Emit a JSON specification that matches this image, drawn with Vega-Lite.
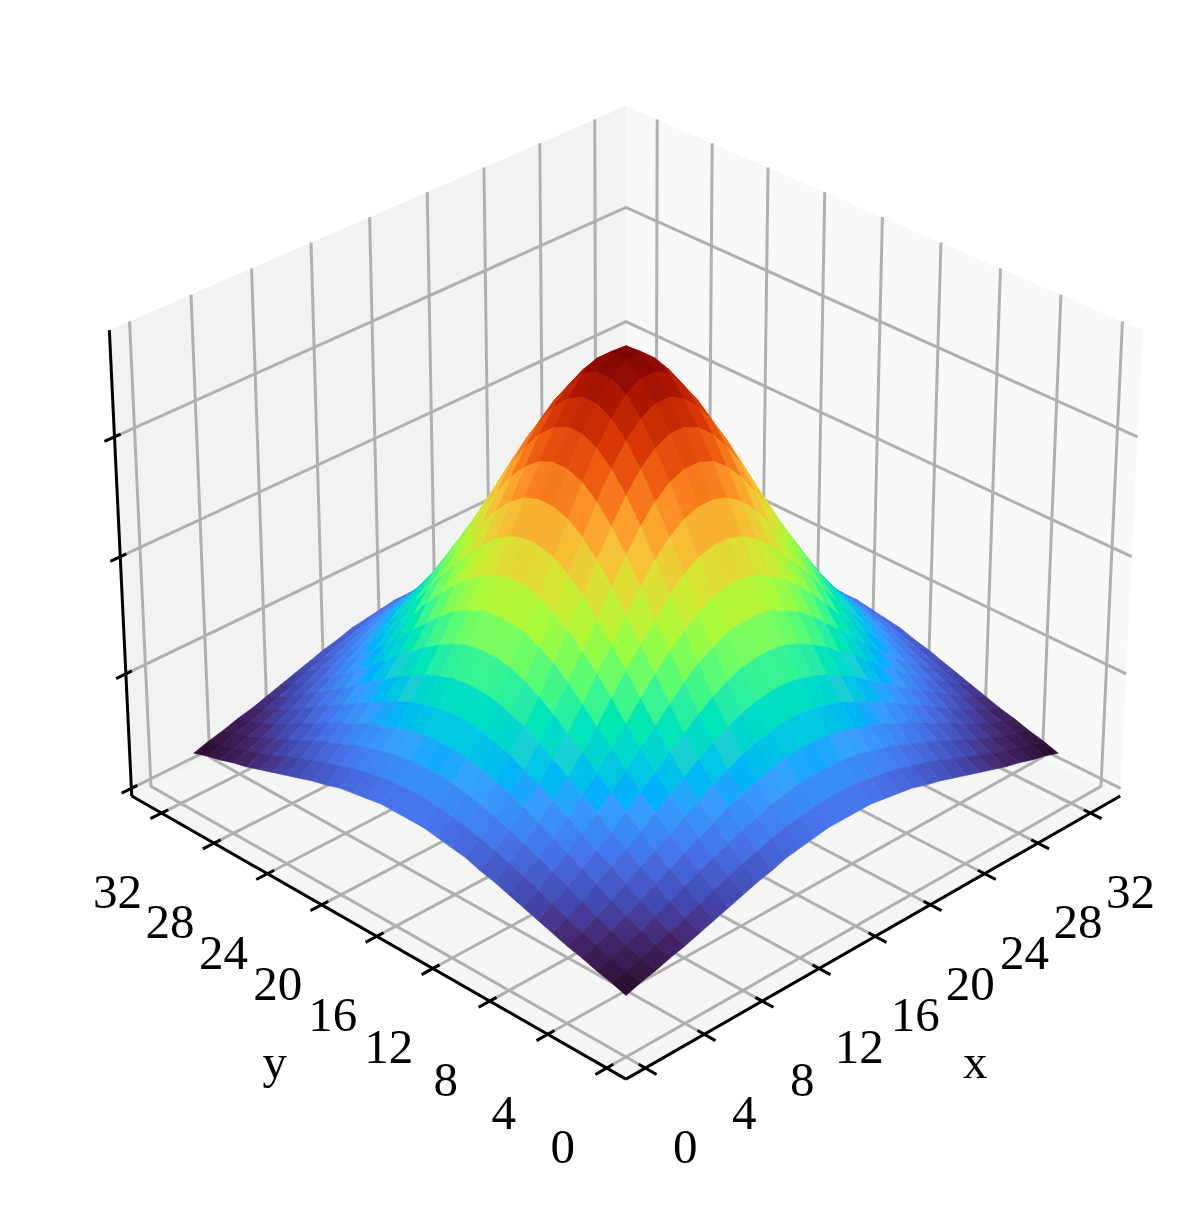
{"$schema":"https://vega.github.io/schema/vega-lite/v6.json","width":1195,"height":1206,"autosize":"none","padding":0,"background":"white","view":{"stroke":null},
"datasets":{"surface":[
{"x":32,"y":32,"z":0.31},{"x":32,"y":31,"z":0.35},{"x":32,"y":30,"z":0.38},{"x":32,"y":29,"z":0.42},{"x":32,"y":28,"z":0.45},{"x":32,"y":27,"z":0.49},{"x":32,"y":26,"z":0.53},{"x":32,"y":25,"z":0.57},{"x":32,"y":24,"z":0.61},{"x":32,"y":23,"z":0.65},{"x":32,"y":22,"z":0.68},{"x":32,"y":21,"z":0.72},{"x":32,"y":20,"z":0.74},{"x":32,"y":19,"z":0.76},{"x":32,"y":18,"z":0.78},{"x":32,"y":17,"z":0.78},{"x":32,"y":16,"z":0.78},{"x":32,"y":15,"z":0.78},{"x":32,"y":14,"z":0.76},{"x":32,"y":13,"z":0.74},{"x":32,"y":12,"z":0.72},{"x":32,"y":11,"z":0.68},{"x":32,"y":10,"z":0.65},{"x":32,"y":9,"z":0.61},{"x":32,"y":8,"z":0.57},{"x":32,"y":7,"z":0.53},{"x":32,"y":6,"z":0.49},{"x":32,"y":5,"z":0.45},{"x":32,"y":4,"z":0.42},{"x":32,"y":3,"z":0.38},{"x":32,"y":2,"z":0.35},{"x":32,"y":1,"z":0.31},
{"x":31,"y":32,"z":0.35},{"x":31,"y":31,"z":0.38},{"x":31,"y":30,"z":0.42},{"x":31,"y":29,"z":0.46},{"x":31,"y":28,"z":0.5},{"x":31,"y":27,"z":0.55},{"x":31,"y":26,"z":0.6},{"x":31,"y":25,"z":0.65},{"x":31,"y":24,"z":0.7},{"x":31,"y":23,"z":0.74},{"x":31,"y":22,"z":0.78},{"x":31,"y":21,"z":0.82},{"x":31,"y":20,"z":0.85},{"x":31,"y":19,"z":0.87},{"x":31,"y":18,"z":0.89},{"x":31,"y":17,"z":0.9},{"x":31,"y":16,"z":0.9},{"x":31,"y":15,"z":0.89},{"x":31,"y":14,"z":0.87},{"x":31,"y":13,"z":0.85},{"x":31,"y":12,"z":0.82},{"x":31,"y":11,"z":0.78},{"x":31,"y":10,"z":0.74},{"x":31,"y":9,"z":0.7},{"x":31,"y":8,"z":0.65},{"x":31,"y":7,"z":0.6},{"x":31,"y":6,"z":0.55},{"x":31,"y":5,"z":0.5},{"x":31,"y":4,"z":0.46},{"x":31,"y":3,"z":0.42},{"x":31,"y":2,"z":0.38},{"x":31,"y":1,"z":0.35},
{"x":30,"y":32,"z":0.38},{"x":30,"y":31,"z":0.42},{"x":30,"y":30,"z":0.46},{"x":30,"y":29,"z":0.51},{"x":30,"y":28,"z":0.56},{"x":30,"y":27,"z":0.62},{"x":30,"y":26,"z":0.68},{"x":30,"y":25,"z":0.74},{"x":30,"y":24,"z":0.79},{"x":30,"y":23,"z":0.84},{"x":30,"y":22,"z":0.89},{"x":30,"y":21,"z":0.93},{"x":30,"y":20,"z":0.97},{"x":30,"y":19,"z":1.0},{"x":30,"y":18,"z":1.02},{"x":30,"y":17,"z":1.03},{"x":30,"y":16,"z":1.03},{"x":30,"y":15,"z":1.02},{"x":30,"y":14,"z":1.0},{"x":30,"y":13,"z":0.97},{"x":30,"y":12,"z":0.93},{"x":30,"y":11,"z":0.89},{"x":30,"y":10,"z":0.84},{"x":30,"y":9,"z":0.79},{"x":30,"y":8,"z":0.74},{"x":30,"y":7,"z":0.68},{"x":30,"y":6,"z":0.62},{"x":30,"y":5,"z":0.56},{"x":30,"y":4,"z":0.51},{"x":30,"y":3,"z":0.46},{"x":30,"y":2,"z":0.42},{"x":30,"y":1,"z":0.38},
{"x":29,"y":32,"z":0.42},{"x":29,"y":31,"z":0.46},{"x":29,"y":30,"z":0.51},{"x":29,"y":29,"z":0.57},{"x":29,"y":28,"z":0.63},{"x":29,"y":27,"z":0.7},{"x":29,"y":26,"z":0.76},{"x":29,"y":25,"z":0.83},{"x":29,"y":24,"z":0.89},{"x":29,"y":23,"z":0.95},{"x":29,"y":22,"z":1.01},{"x":29,"y":21,"z":1.06},{"x":29,"y":20,"z":1.1},{"x":29,"y":19,"z":1.14},{"x":29,"y":18,"z":1.17},{"x":29,"y":17,"z":1.18},{"x":29,"y":16,"z":1.18},{"x":29,"y":15,"z":1.17},{"x":29,"y":14,"z":1.14},{"x":29,"y":13,"z":1.1},{"x":29,"y":12,"z":1.06},{"x":29,"y":11,"z":1.01},{"x":29,"y":10,"z":0.95},{"x":29,"y":9,"z":0.89},{"x":29,"y":8,"z":0.83},{"x":29,"y":7,"z":0.76},{"x":29,"y":6,"z":0.7},{"x":29,"y":5,"z":0.63},{"x":29,"y":4,"z":0.57},{"x":29,"y":3,"z":0.51},{"x":29,"y":2,"z":0.46},{"x":29,"y":1,"z":0.42},
{"x":28,"y":32,"z":0.45},{"x":28,"y":31,"z":0.5},{"x":28,"y":30,"z":0.56},{"x":28,"y":29,"z":0.63},{"x":28,"y":28,"z":0.7},{"x":28,"y":27,"z":0.78},{"x":28,"y":26,"z":0.85},{"x":28,"y":25,"z":0.92},{"x":28,"y":24,"z":1.0},{"x":28,"y":23,"z":1.07},{"x":28,"y":22,"z":1.14},{"x":28,"y":21,"z":1.2},{"x":28,"y":20,"z":1.26},{"x":28,"y":19,"z":1.3},{"x":28,"y":18,"z":1.33},{"x":28,"y":17,"z":1.35},{"x":28,"y":16,"z":1.35},{"x":28,"y":15,"z":1.33},{"x":28,"y":14,"z":1.3},{"x":28,"y":13,"z":1.26},{"x":28,"y":12,"z":1.2},{"x":28,"y":11,"z":1.14},{"x":28,"y":10,"z":1.07},{"x":28,"y":9,"z":1.0},{"x":28,"y":8,"z":0.92},{"x":28,"y":7,"z":0.85},{"x":28,"y":6,"z":0.78},{"x":28,"y":5,"z":0.7},{"x":28,"y":4,"z":0.63},{"x":28,"y":3,"z":0.56},{"x":28,"y":2,"z":0.5},{"x":28,"y":1,"z":0.45},
{"x":27,"y":32,"z":0.49},{"x":27,"y":31,"z":0.55},{"x":27,"y":30,"z":0.62},{"x":27,"y":29,"z":0.7},{"x":27,"y":28,"z":0.78},{"x":27,"y":27,"z":0.86},{"x":27,"y":26,"z":0.94},{"x":27,"y":25,"z":1.03},{"x":27,"y":24,"z":1.12},{"x":27,"y":23,"z":1.2},{"x":27,"y":22,"z":1.29},{"x":27,"y":21,"z":1.36},{"x":27,"y":20,"z":1.43},{"x":27,"y":19,"z":1.48},{"x":27,"y":18,"z":1.52},{"x":27,"y":17,"z":1.54},{"x":27,"y":16,"z":1.54},{"x":27,"y":15,"z":1.52},{"x":27,"y":14,"z":1.48},{"x":27,"y":13,"z":1.43},{"x":27,"y":12,"z":1.36},{"x":27,"y":11,"z":1.29},{"x":27,"y":10,"z":1.2},{"x":27,"y":9,"z":1.12},{"x":27,"y":8,"z":1.03},{"x":27,"y":7,"z":0.94},{"x":27,"y":6,"z":0.86},{"x":27,"y":5,"z":0.78},{"x":27,"y":4,"z":0.7},{"x":27,"y":3,"z":0.62},{"x":27,"y":2,"z":0.55},{"x":27,"y":1,"z":0.49},
{"x":26,"y":32,"z":0.53},{"x":26,"y":31,"z":0.6},{"x":26,"y":30,"z":0.68},{"x":26,"y":29,"z":0.76},{"x":26,"y":28,"z":0.85},{"x":26,"y":27,"z":0.94},{"x":26,"y":26,"z":1.04},{"x":26,"y":25,"z":1.14},{"x":26,"y":24,"z":1.24},{"x":26,"y":23,"z":1.35},{"x":26,"y":22,"z":1.44},{"x":26,"y":21,"z":1.54},{"x":26,"y":20,"z":1.62},{"x":26,"y":19,"z":1.69},{"x":26,"y":18,"z":1.74},{"x":26,"y":17,"z":1.76},{"x":26,"y":16,"z":1.76},{"x":26,"y":15,"z":1.74},{"x":26,"y":14,"z":1.69},{"x":26,"y":13,"z":1.62},{"x":26,"y":12,"z":1.54},{"x":26,"y":11,"z":1.44},{"x":26,"y":10,"z":1.35},{"x":26,"y":9,"z":1.24},{"x":26,"y":8,"z":1.14},{"x":26,"y":7,"z":1.04},{"x":26,"y":6,"z":0.94},{"x":26,"y":5,"z":0.85},{"x":26,"y":4,"z":0.76},{"x":26,"y":3,"z":0.68},{"x":26,"y":2,"z":0.6},{"x":26,"y":1,"z":0.53},
{"x":25,"y":32,"z":0.57},{"x":25,"y":31,"z":0.65},{"x":25,"y":30,"z":0.74},{"x":25,"y":29,"z":0.83},{"x":25,"y":28,"z":0.92},{"x":25,"y":27,"z":1.03},{"x":25,"y":26,"z":1.14},{"x":25,"y":25,"z":1.26},{"x":25,"y":24,"z":1.38},{"x":25,"y":23,"z":1.5},{"x":25,"y":22,"z":1.62},{"x":25,"y":21,"z":1.74},{"x":25,"y":20,"z":1.84},{"x":25,"y":19,"z":1.91},{"x":25,"y":18,"z":1.97},{"x":25,"y":17,"z":1.99},{"x":25,"y":16,"z":1.99},{"x":25,"y":15,"z":1.97},{"x":25,"y":14,"z":1.91},{"x":25,"y":13,"z":1.84},{"x":25,"y":12,"z":1.74},{"x":25,"y":11,"z":1.62},{"x":25,"y":10,"z":1.5},{"x":25,"y":9,"z":1.38},{"x":25,"y":8,"z":1.26},{"x":25,"y":7,"z":1.14},{"x":25,"y":6,"z":1.03},{"x":25,"y":5,"z":0.92},{"x":25,"y":4,"z":0.83},{"x":25,"y":3,"z":0.74},{"x":25,"y":2,"z":0.65},{"x":25,"y":1,"z":0.57},
{"x":24,"y":32,"z":0.61},{"x":24,"y":31,"z":0.7},{"x":24,"y":30,"z":0.79},{"x":24,"y":29,"z":0.89},{"x":24,"y":28,"z":1.0},{"x":24,"y":27,"z":1.12},{"x":24,"y":26,"z":1.24},{"x":24,"y":25,"z":1.38},{"x":24,"y":24,"z":1.52},{"x":24,"y":23,"z":1.67},{"x":24,"y":22,"z":1.81},{"x":24,"y":21,"z":1.94},{"x":24,"y":20,"z":2.05},{"x":24,"y":19,"z":2.13},{"x":24,"y":18,"z":2.2},{"x":24,"y":17,"z":2.24},{"x":24,"y":16,"z":2.24},{"x":24,"y":15,"z":2.2},{"x":24,"y":14,"z":2.13},{"x":24,"y":13,"z":2.05},{"x":24,"y":12,"z":1.94},{"x":24,"y":11,"z":1.81},{"x":24,"y":10,"z":1.67},{"x":24,"y":9,"z":1.52},{"x":24,"y":8,"z":1.38},{"x":24,"y":7,"z":1.24},{"x":24,"y":6,"z":1.12},{"x":24,"y":5,"z":1.0},{"x":24,"y":4,"z":0.89},{"x":24,"y":3,"z":0.79},{"x":24,"y":2,"z":0.7},{"x":24,"y":1,"z":0.61},
{"x":23,"y":32,"z":0.65},{"x":23,"y":31,"z":0.74},{"x":23,"y":30,"z":0.84},{"x":23,"y":29,"z":0.95},{"x":23,"y":28,"z":1.07},{"x":23,"y":27,"z":1.2},{"x":23,"y":26,"z":1.35},{"x":23,"y":25,"z":1.5},{"x":23,"y":24,"z":1.67},{"x":23,"y":23,"z":1.84},{"x":23,"y":22,"z":1.99},{"x":23,"y":21,"z":2.13},{"x":23,"y":20,"z":2.28},{"x":23,"y":19,"z":2.39},{"x":23,"y":18,"z":2.47},{"x":23,"y":17,"z":2.51},{"x":23,"y":16,"z":2.51},{"x":23,"y":15,"z":2.47},{"x":23,"y":14,"z":2.39},{"x":23,"y":13,"z":2.28},{"x":23,"y":12,"z":2.13},{"x":23,"y":11,"z":1.99},{"x":23,"y":10,"z":1.84},{"x":23,"y":9,"z":1.67},{"x":23,"y":8,"z":1.5},{"x":23,"y":7,"z":1.35},{"x":23,"y":6,"z":1.2},{"x":23,"y":5,"z":1.07},{"x":23,"y":4,"z":0.95},{"x":23,"y":3,"z":0.84},{"x":23,"y":2,"z":0.74},{"x":23,"y":1,"z":0.65},
{"x":22,"y":32,"z":0.68},{"x":22,"y":31,"z":0.78},{"x":22,"y":30,"z":0.89},{"x":22,"y":29,"z":1.01},{"x":22,"y":28,"z":1.14},{"x":22,"y":27,"z":1.29},{"x":22,"y":26,"z":1.44},{"x":22,"y":25,"z":1.62},{"x":22,"y":24,"z":1.81},{"x":22,"y":23,"z":1.99},{"x":22,"y":22,"z":2.17},{"x":22,"y":21,"z":2.35},{"x":22,"y":20,"z":2.51},{"x":22,"y":19,"z":2.64},{"x":22,"y":18,"z":2.73},{"x":22,"y":17,"z":2.77},{"x":22,"y":16,"z":2.77},{"x":22,"y":15,"z":2.73},{"x":22,"y":14,"z":2.64},{"x":22,"y":13,"z":2.51},{"x":22,"y":12,"z":2.35},{"x":22,"y":11,"z":2.17},{"x":22,"y":10,"z":1.99},{"x":22,"y":9,"z":1.81},{"x":22,"y":8,"z":1.62},{"x":22,"y":7,"z":1.44},{"x":22,"y":6,"z":1.29},{"x":22,"y":5,"z":1.14},{"x":22,"y":4,"z":1.01},{"x":22,"y":3,"z":0.89},{"x":22,"y":2,"z":0.78},{"x":22,"y":1,"z":0.68},
{"x":21,"y":32,"z":0.72},{"x":21,"y":31,"z":0.82},{"x":21,"y":30,"z":0.93},{"x":21,"y":29,"z":1.06},{"x":21,"y":28,"z":1.2},{"x":21,"y":27,"z":1.36},{"x":21,"y":26,"z":1.54},{"x":21,"y":25,"z":1.74},{"x":21,"y":24,"z":1.94},{"x":21,"y":23,"z":2.13},{"x":21,"y":22,"z":2.35},{"x":21,"y":21,"z":2.55},{"x":21,"y":20,"z":2.73},{"x":21,"y":19,"z":2.87},{"x":21,"y":18,"z":2.97},{"x":21,"y":17,"z":3.02},{"x":21,"y":16,"z":3.02},{"x":21,"y":15,"z":2.97},{"x":21,"y":14,"z":2.87},{"x":21,"y":13,"z":2.73},{"x":21,"y":12,"z":2.55},{"x":21,"y":11,"z":2.35},{"x":21,"y":10,"z":2.13},{"x":21,"y":9,"z":1.94},{"x":21,"y":8,"z":1.74},{"x":21,"y":7,"z":1.54},{"x":21,"y":6,"z":1.36},{"x":21,"y":5,"z":1.2},{"x":21,"y":4,"z":1.06},{"x":21,"y":3,"z":0.93},{"x":21,"y":2,"z":0.82},{"x":21,"y":1,"z":0.72},
{"x":20,"y":32,"z":0.74},{"x":20,"y":31,"z":0.85},{"x":20,"y":30,"z":0.97},{"x":20,"y":29,"z":1.1},{"x":20,"y":28,"z":1.26},{"x":20,"y":27,"z":1.43},{"x":20,"y":26,"z":1.62},{"x":20,"y":25,"z":1.84},{"x":20,"y":24,"z":2.05},{"x":20,"y":23,"z":2.28},{"x":20,"y":22,"z":2.51},{"x":20,"y":21,"z":2.73},{"x":20,"y":20,"z":2.92},{"x":20,"y":19,"z":3.08},{"x":20,"y":18,"z":3.19},{"x":20,"y":17,"z":3.25},{"x":20,"y":16,"z":3.25},{"x":20,"y":15,"z":3.19},{"x":20,"y":14,"z":3.08},{"x":20,"y":13,"z":2.92},{"x":20,"y":12,"z":2.73},{"x":20,"y":11,"z":2.51},{"x":20,"y":10,"z":2.28},{"x":20,"y":9,"z":2.05},{"x":20,"y":8,"z":1.84},{"x":20,"y":7,"z":1.62},{"x":20,"y":6,"z":1.43},{"x":20,"y":5,"z":1.26},{"x":20,"y":4,"z":1.1},{"x":20,"y":3,"z":0.97},{"x":20,"y":2,"z":0.85},{"x":20,"y":1,"z":0.74},
{"x":19,"y":32,"z":0.76},{"x":19,"y":31,"z":0.87},{"x":19,"y":30,"z":1.0},{"x":19,"y":29,"z":1.14},{"x":19,"y":28,"z":1.3},{"x":19,"y":27,"z":1.48},{"x":19,"y":26,"z":1.69},{"x":19,"y":25,"z":1.91},{"x":19,"y":24,"z":2.13},{"x":19,"y":23,"z":2.39},{"x":19,"y":22,"z":2.64},{"x":19,"y":21,"z":2.87},{"x":19,"y":20,"z":3.08},{"x":19,"y":19,"z":3.25},{"x":19,"y":18,"z":3.37},{"x":19,"y":17,"z":3.44},{"x":19,"y":16,"z":3.44},{"x":19,"y":15,"z":3.37},{"x":19,"y":14,"z":3.25},{"x":19,"y":13,"z":3.08},{"x":19,"y":12,"z":2.87},{"x":19,"y":11,"z":2.64},{"x":19,"y":10,"z":2.39},{"x":19,"y":9,"z":2.13},{"x":19,"y":8,"z":1.91},{"x":19,"y":7,"z":1.69},{"x":19,"y":6,"z":1.48},{"x":19,"y":5,"z":1.3},{"x":19,"y":4,"z":1.14},{"x":19,"y":3,"z":1.0},{"x":19,"y":2,"z":0.87},{"x":19,"y":1,"z":0.76},
{"x":18,"y":32,"z":0.78},{"x":18,"y":31,"z":0.89},{"x":18,"y":30,"z":1.02},{"x":18,"y":29,"z":1.17},{"x":18,"y":28,"z":1.33},{"x":18,"y":27,"z":1.52},{"x":18,"y":26,"z":1.74},{"x":18,"y":25,"z":1.97},{"x":18,"y":24,"z":2.2},{"x":18,"y":23,"z":2.47},{"x":18,"y":22,"z":2.73},{"x":18,"y":21,"z":2.97},{"x":18,"y":20,"z":3.19},{"x":18,"y":19,"z":3.37},{"x":18,"y":18,"z":3.52},{"x":18,"y":17,"z":3.59},{"x":18,"y":16,"z":3.59},{"x":18,"y":15,"z":3.52},{"x":18,"y":14,"z":3.37},{"x":18,"y":13,"z":3.19},{"x":18,"y":12,"z":2.97},{"x":18,"y":11,"z":2.73},{"x":18,"y":10,"z":2.47},{"x":18,"y":9,"z":2.2},{"x":18,"y":8,"z":1.97},{"x":18,"y":7,"z":1.74},{"x":18,"y":6,"z":1.52},{"x":18,"y":5,"z":1.33},{"x":18,"y":4,"z":1.17},{"x":18,"y":3,"z":1.02},{"x":18,"y":2,"z":0.89},{"x":18,"y":1,"z":0.78},
{"x":17,"y":32,"z":0.78},{"x":17,"y":31,"z":0.9},{"x":17,"y":30,"z":1.03},{"x":17,"y":29,"z":1.18},{"x":17,"y":28,"z":1.35},{"x":17,"y":27,"z":1.54},{"x":17,"y":26,"z":1.76},{"x":17,"y":25,"z":1.99},{"x":17,"y":24,"z":2.24},{"x":17,"y":23,"z":2.51},{"x":17,"y":22,"z":2.77},{"x":17,"y":21,"z":3.02},{"x":17,"y":20,"z":3.25},{"x":17,"y":19,"z":3.44},{"x":17,"y":18,"z":3.59},{"x":17,"y":17,"z":3.69},{"x":17,"y":16,"z":3.69},{"x":17,"y":15,"z":3.59},{"x":17,"y":14,"z":3.44},{"x":17,"y":13,"z":3.25},{"x":17,"y":12,"z":3.02},{"x":17,"y":11,"z":2.77},{"x":17,"y":10,"z":2.51},{"x":17,"y":9,"z":2.24},{"x":17,"y":8,"z":1.99},{"x":17,"y":7,"z":1.76},{"x":17,"y":6,"z":1.54},{"x":17,"y":5,"z":1.35},{"x":17,"y":4,"z":1.18},{"x":17,"y":3,"z":1.03},{"x":17,"y":2,"z":0.9},{"x":17,"y":1,"z":0.78},
{"x":16,"y":32,"z":0.78},{"x":16,"y":31,"z":0.9},{"x":16,"y":30,"z":1.03},{"x":16,"y":29,"z":1.18},{"x":16,"y":28,"z":1.35},{"x":16,"y":27,"z":1.54},{"x":16,"y":26,"z":1.76},{"x":16,"y":25,"z":1.99},{"x":16,"y":24,"z":2.24},{"x":16,"y":23,"z":2.51},{"x":16,"y":22,"z":2.77},{"x":16,"y":21,"z":3.02},{"x":16,"y":20,"z":3.25},{"x":16,"y":19,"z":3.44},{"x":16,"y":18,"z":3.59},{"x":16,"y":17,"z":3.69},{"x":16,"y":16,"z":3.69},{"x":16,"y":15,"z":3.59},{"x":16,"y":14,"z":3.44},{"x":16,"y":13,"z":3.25},{"x":16,"y":12,"z":3.02},{"x":16,"y":11,"z":2.77},{"x":16,"y":10,"z":2.51},{"x":16,"y":9,"z":2.24},{"x":16,"y":8,"z":1.99},{"x":16,"y":7,"z":1.76},{"x":16,"y":6,"z":1.54},{"x":16,"y":5,"z":1.35},{"x":16,"y":4,"z":1.18},{"x":16,"y":3,"z":1.03},{"x":16,"y":2,"z":0.9},{"x":16,"y":1,"z":0.78},
{"x":15,"y":32,"z":0.78},{"x":15,"y":31,"z":0.89},{"x":15,"y":30,"z":1.02},{"x":15,"y":29,"z":1.17},{"x":15,"y":28,"z":1.33},{"x":15,"y":27,"z":1.52},{"x":15,"y":26,"z":1.74},{"x":15,"y":25,"z":1.97},{"x":15,"y":24,"z":2.2},{"x":15,"y":23,"z":2.47},{"x":15,"y":22,"z":2.73},{"x":15,"y":21,"z":2.97},{"x":15,"y":20,"z":3.19},{"x":15,"y":19,"z":3.37},{"x":15,"y":18,"z":3.52},{"x":15,"y":17,"z":3.59},{"x":15,"y":16,"z":3.59},{"x":15,"y":15,"z":3.52},{"x":15,"y":14,"z":3.37},{"x":15,"y":13,"z":3.19},{"x":15,"y":12,"z":2.97},{"x":15,"y":11,"z":2.73},{"x":15,"y":10,"z":2.47},{"x":15,"y":9,"z":2.2},{"x":15,"y":8,"z":1.97},{"x":15,"y":7,"z":1.74},{"x":15,"y":6,"z":1.52},{"x":15,"y":5,"z":1.33},{"x":15,"y":4,"z":1.17},{"x":15,"y":3,"z":1.02},{"x":15,"y":2,"z":0.89},{"x":15,"y":1,"z":0.78},
{"x":14,"y":32,"z":0.76},{"x":14,"y":31,"z":0.87},{"x":14,"y":30,"z":1.0},{"x":14,"y":29,"z":1.14},{"x":14,"y":28,"z":1.3},{"x":14,"y":27,"z":1.48},{"x":14,"y":26,"z":1.69},{"x":14,"y":25,"z":1.91},{"x":14,"y":24,"z":2.13},{"x":14,"y":23,"z":2.39},{"x":14,"y":22,"z":2.64},{"x":14,"y":21,"z":2.87},{"x":14,"y":20,"z":3.08},{"x":14,"y":19,"z":3.25},{"x":14,"y":18,"z":3.37},{"x":14,"y":17,"z":3.44},{"x":14,"y":16,"z":3.44},{"x":14,"y":15,"z":3.37},{"x":14,"y":14,"z":3.25},{"x":14,"y":13,"z":3.08},{"x":14,"y":12,"z":2.87},{"x":14,"y":11,"z":2.64},{"x":14,"y":10,"z":2.39},{"x":14,"y":9,"z":2.13},{"x":14,"y":8,"z":1.91},{"x":14,"y":7,"z":1.69},{"x":14,"y":6,"z":1.48},{"x":14,"y":5,"z":1.3},{"x":14,"y":4,"z":1.14},{"x":14,"y":3,"z":1.0},{"x":14,"y":2,"z":0.87},{"x":14,"y":1,"z":0.76},
{"x":13,"y":32,"z":0.74},{"x":13,"y":31,"z":0.85},{"x":13,"y":30,"z":0.97},{"x":13,"y":29,"z":1.1},{"x":13,"y":28,"z":1.26},{"x":13,"y":27,"z":1.43},{"x":13,"y":26,"z":1.62},{"x":13,"y":25,"z":1.84},{"x":13,"y":24,"z":2.05},{"x":13,"y":23,"z":2.28},{"x":13,"y":22,"z":2.51},{"x":13,"y":21,"z":2.73},{"x":13,"y":20,"z":2.92},{"x":13,"y":19,"z":3.08},{"x":13,"y":18,"z":3.19},{"x":13,"y":17,"z":3.25},{"x":13,"y":16,"z":3.25},{"x":13,"y":15,"z":3.19},{"x":13,"y":14,"z":3.08},{"x":13,"y":13,"z":2.92},{"x":13,"y":12,"z":2.73},{"x":13,"y":11,"z":2.51},{"x":13,"y":10,"z":2.28},{"x":13,"y":9,"z":2.05},{"x":13,"y":8,"z":1.84},{"x":13,"y":7,"z":1.62},{"x":13,"y":6,"z":1.43},{"x":13,"y":5,"z":1.26},{"x":13,"y":4,"z":1.1},{"x":13,"y":3,"z":0.97},{"x":13,"y":2,"z":0.85},{"x":13,"y":1,"z":0.74},
{"x":12,"y":32,"z":0.72},{"x":12,"y":31,"z":0.82},{"x":12,"y":30,"z":0.93},{"x":12,"y":29,"z":1.06},{"x":12,"y":28,"z":1.2},{"x":12,"y":27,"z":1.36},{"x":12,"y":26,"z":1.54},{"x":12,"y":25,"z":1.74},{"x":12,"y":24,"z":1.94},{"x":12,"y":23,"z":2.13},{"x":12,"y":22,"z":2.35},{"x":12,"y":21,"z":2.55},{"x":12,"y":20,"z":2.73},{"x":12,"y":19,"z":2.87},{"x":12,"y":18,"z":2.97},{"x":12,"y":17,"z":3.02},{"x":12,"y":16,"z":3.02},{"x":12,"y":15,"z":2.97},{"x":12,"y":14,"z":2.87},{"x":12,"y":13,"z":2.73},{"x":12,"y":12,"z":2.55},{"x":12,"y":11,"z":2.35},{"x":12,"y":10,"z":2.13},{"x":12,"y":9,"z":1.94},{"x":12,"y":8,"z":1.74},{"x":12,"y":7,"z":1.54},{"x":12,"y":6,"z":1.36},{"x":12,"y":5,"z":1.2},{"x":12,"y":4,"z":1.06},{"x":12,"y":3,"z":0.93},{"x":12,"y":2,"z":0.82},{"x":12,"y":1,"z":0.72},
{"x":11,"y":32,"z":0.68},{"x":11,"y":31,"z":0.78},{"x":11,"y":30,"z":0.89},{"x":11,"y":29,"z":1.01},{"x":11,"y":28,"z":1.14},{"x":11,"y":27,"z":1.29},{"x":11,"y":26,"z":1.44},{"x":11,"y":25,"z":1.62},{"x":11,"y":24,"z":1.81},{"x":11,"y":23,"z":1.99},{"x":11,"y":22,"z":2.17},{"x":11,"y":21,"z":2.35},{"x":11,"y":20,"z":2.51},{"x":11,"y":19,"z":2.64},{"x":11,"y":18,"z":2.73},{"x":11,"y":17,"z":2.77},{"x":11,"y":16,"z":2.77},{"x":11,"y":15,"z":2.73},{"x":11,"y":14,"z":2.64},{"x":11,"y":13,"z":2.51},{"x":11,"y":12,"z":2.35},{"x":11,"y":11,"z":2.17},{"x":11,"y":10,"z":1.99},{"x":11,"y":9,"z":1.81},{"x":11,"y":8,"z":1.62},{"x":11,"y":7,"z":1.44},{"x":11,"y":6,"z":1.29},{"x":11,"y":5,"z":1.14},{"x":11,"y":4,"z":1.01},{"x":11,"y":3,"z":0.89},{"x":11,"y":2,"z":0.78},{"x":11,"y":1,"z":0.68},
{"x":10,"y":32,"z":0.65},{"x":10,"y":31,"z":0.74},{"x":10,"y":30,"z":0.84},{"x":10,"y":29,"z":0.95},{"x":10,"y":28,"z":1.07},{"x":10,"y":27,"z":1.2},{"x":10,"y":26,"z":1.35},{"x":10,"y":25,"z":1.5},{"x":10,"y":24,"z":1.67},{"x":10,"y":23,"z":1.84},{"x":10,"y":22,"z":1.99},{"x":10,"y":21,"z":2.13},{"x":10,"y":20,"z":2.28},{"x":10,"y":19,"z":2.39},{"x":10,"y":18,"z":2.47},{"x":10,"y":17,"z":2.51},{"x":10,"y":16,"z":2.51},{"x":10,"y":15,"z":2.47},{"x":10,"y":14,"z":2.39},{"x":10,"y":13,"z":2.28},{"x":10,"y":12,"z":2.13},{"x":10,"y":11,"z":1.99},{"x":10,"y":10,"z":1.84},{"x":10,"y":9,"z":1.67},{"x":10,"y":8,"z":1.5},{"x":10,"y":7,"z":1.35},{"x":10,"y":6,"z":1.2},{"x":10,"y":5,"z":1.07},{"x":10,"y":4,"z":0.95},{"x":10,"y":3,"z":0.84},{"x":10,"y":2,"z":0.74},{"x":10,"y":1,"z":0.65},
{"x":9,"y":32,"z":0.61},{"x":9,"y":31,"z":0.7},{"x":9,"y":30,"z":0.79},{"x":9,"y":29,"z":0.89},{"x":9,"y":28,"z":1.0},{"x":9,"y":27,"z":1.12},{"x":9,"y":26,"z":1.24},{"x":9,"y":25,"z":1.38},{"x":9,"y":24,"z":1.52},{"x":9,"y":23,"z":1.67},{"x":9,"y":22,"z":1.81},{"x":9,"y":21,"z":1.94},{"x":9,"y":20,"z":2.05},{"x":9,"y":19,"z":2.13},{"x":9,"y":18,"z":2.2},{"x":9,"y":17,"z":2.24},{"x":9,"y":16,"z":2.24},{"x":9,"y":15,"z":2.2},{"x":9,"y":14,"z":2.13},{"x":9,"y":13,"z":2.05},{"x":9,"y":12,"z":1.94},{"x":9,"y":11,"z":1.81},{"x":9,"y":10,"z":1.67},{"x":9,"y":9,"z":1.52},{"x":9,"y":8,"z":1.38},{"x":9,"y":7,"z":1.24},{"x":9,"y":6,"z":1.12},{"x":9,"y":5,"z":1.0},{"x":9,"y":4,"z":0.89},{"x":9,"y":3,"z":0.79},{"x":9,"y":2,"z":0.7},{"x":9,"y":1,"z":0.61},
{"x":8,"y":32,"z":0.57},{"x":8,"y":31,"z":0.65},{"x":8,"y":30,"z":0.74},{"x":8,"y":29,"z":0.83},{"x":8,"y":28,"z":0.92},{"x":8,"y":27,"z":1.03},{"x":8,"y":26,"z":1.14},{"x":8,"y":25,"z":1.26},{"x":8,"y":24,"z":1.38},{"x":8,"y":23,"z":1.5},{"x":8,"y":22,"z":1.62},{"x":8,"y":21,"z":1.74},{"x":8,"y":20,"z":1.84},{"x":8,"y":19,"z":1.91},{"x":8,"y":18,"z":1.97},{"x":8,"y":17,"z":1.99},{"x":8,"y":16,"z":1.99},{"x":8,"y":15,"z":1.97},{"x":8,"y":14,"z":1.91},{"x":8,"y":13,"z":1.84},{"x":8,"y":12,"z":1.74},{"x":8,"y":11,"z":1.62},{"x":8,"y":10,"z":1.5},{"x":8,"y":9,"z":1.38},{"x":8,"y":8,"z":1.26},{"x":8,"y":7,"z":1.14},{"x":8,"y":6,"z":1.03},{"x":8,"y":5,"z":0.92},{"x":8,"y":4,"z":0.83},{"x":8,"y":3,"z":0.74},{"x":8,"y":2,"z":0.65},{"x":8,"y":1,"z":0.57},
{"x":7,"y":32,"z":0.53},{"x":7,"y":31,"z":0.6},{"x":7,"y":30,"z":0.68},{"x":7,"y":29,"z":0.76},{"x":7,"y":28,"z":0.85},{"x":7,"y":27,"z":0.94},{"x":7,"y":26,"z":1.04},{"x":7,"y":25,"z":1.14},{"x":7,"y":24,"z":1.24},{"x":7,"y":23,"z":1.35},{"x":7,"y":22,"z":1.44},{"x":7,"y":21,"z":1.54},{"x":7,"y":20,"z":1.62},{"x":7,"y":19,"z":1.69},{"x":7,"y":18,"z":1.74},{"x":7,"y":17,"z":1.76},{"x":7,"y":16,"z":1.76},{"x":7,"y":15,"z":1.74},{"x":7,"y":14,"z":1.69},{"x":7,"y":13,"z":1.62},{"x":7,"y":12,"z":1.54},{"x":7,"y":11,"z":1.44},{"x":7,"y":10,"z":1.35},{"x":7,"y":9,"z":1.24},{"x":7,"y":8,"z":1.14},{"x":7,"y":7,"z":1.04},{"x":7,"y":6,"z":0.94},{"x":7,"y":5,"z":0.85},{"x":7,"y":4,"z":0.76},{"x":7,"y":3,"z":0.68},{"x":7,"y":2,"z":0.6},{"x":7,"y":1,"z":0.53},
{"x":6,"y":32,"z":0.49},{"x":6,"y":31,"z":0.55},{"x":6,"y":30,"z":0.62},{"x":6,"y":29,"z":0.7},{"x":6,"y":28,"z":0.78},{"x":6,"y":27,"z":0.86},{"x":6,"y":26,"z":0.94},{"x":6,"y":25,"z":1.03},{"x":6,"y":24,"z":1.12},{"x":6,"y":23,"z":1.2},{"x":6,"y":22,"z":1.29},{"x":6,"y":21,"z":1.36},{"x":6,"y":20,"z":1.43},{"x":6,"y":19,"z":1.48},{"x":6,"y":18,"z":1.52},{"x":6,"y":17,"z":1.54},{"x":6,"y":16,"z":1.54},{"x":6,"y":15,"z":1.52},{"x":6,"y":14,"z":1.48},{"x":6,"y":13,"z":1.43},{"x":6,"y":12,"z":1.36},{"x":6,"y":11,"z":1.29},{"x":6,"y":10,"z":1.2},{"x":6,"y":9,"z":1.12},{"x":6,"y":8,"z":1.03},{"x":6,"y":7,"z":0.94},{"x":6,"y":6,"z":0.86},{"x":6,"y":5,"z":0.78},{"x":6,"y":4,"z":0.7},{"x":6,"y":3,"z":0.62},{"x":6,"y":2,"z":0.55},{"x":6,"y":1,"z":0.49},
{"x":5,"y":32,"z":0.45},{"x":5,"y":31,"z":0.5},{"x":5,"y":30,"z":0.56},{"x":5,"y":29,"z":0.63},{"x":5,"y":28,"z":0.7},{"x":5,"y":27,"z":0.78},{"x":5,"y":26,"z":0.85},{"x":5,"y":25,"z":0.92},{"x":5,"y":24,"z":1.0},{"x":5,"y":23,"z":1.07},{"x":5,"y":22,"z":1.14},{"x":5,"y":21,"z":1.2},{"x":5,"y":20,"z":1.26},{"x":5,"y":19,"z":1.3},{"x":5,"y":18,"z":1.33},{"x":5,"y":17,"z":1.35},{"x":5,"y":16,"z":1.35},{"x":5,"y":15,"z":1.33},{"x":5,"y":14,"z":1.3},{"x":5,"y":13,"z":1.26},{"x":5,"y":12,"z":1.2},{"x":5,"y":11,"z":1.14},{"x":5,"y":10,"z":1.07},{"x":5,"y":9,"z":1.0},{"x":5,"y":8,"z":0.92},{"x":5,"y":7,"z":0.85},{"x":5,"y":6,"z":0.78},{"x":5,"y":5,"z":0.7},{"x":5,"y":4,"z":0.63},{"x":5,"y":3,"z":0.56},{"x":5,"y":2,"z":0.5},{"x":5,"y":1,"z":0.45},
{"x":4,"y":32,"z":0.42},{"x":4,"y":31,"z":0.46},{"x":4,"y":30,"z":0.51},{"x":4,"y":29,"z":0.57},{"x":4,"y":28,"z":0.63},{"x":4,"y":27,"z":0.7},{"x":4,"y":26,"z":0.76},{"x":4,"y":25,"z":0.83},{"x":4,"y":24,"z":0.89},{"x":4,"y":23,"z":0.95},{"x":4,"y":22,"z":1.01},{"x":4,"y":21,"z":1.06},{"x":4,"y":20,"z":1.1},{"x":4,"y":19,"z":1.14},{"x":4,"y":18,"z":1.17},{"x":4,"y":17,"z":1.18},{"x":4,"y":16,"z":1.18},{"x":4,"y":15,"z":1.17},{"x":4,"y":14,"z":1.14},{"x":4,"y":13,"z":1.1},{"x":4,"y":12,"z":1.06},{"x":4,"y":11,"z":1.01},{"x":4,"y":10,"z":0.95},{"x":4,"y":9,"z":0.89},{"x":4,"y":8,"z":0.83},{"x":4,"y":7,"z":0.76},{"x":4,"y":6,"z":0.7},{"x":4,"y":5,"z":0.63},{"x":4,"y":4,"z":0.57},{"x":4,"y":3,"z":0.51},{"x":4,"y":2,"z":0.46},{"x":4,"y":1,"z":0.42},
{"x":3,"y":32,"z":0.38},{"x":3,"y":31,"z":0.42},{"x":3,"y":30,"z":0.46},{"x":3,"y":29,"z":0.51},{"x":3,"y":28,"z":0.56},{"x":3,"y":27,"z":0.62},{"x":3,"y":26,"z":0.68},{"x":3,"y":25,"z":0.74},{"x":3,"y":24,"z":0.79},{"x":3,"y":23,"z":0.84},{"x":3,"y":22,"z":0.89},{"x":3,"y":21,"z":0.93},{"x":3,"y":20,"z":0.97},{"x":3,"y":19,"z":1.0},{"x":3,"y":18,"z":1.02},{"x":3,"y":17,"z":1.03},{"x":3,"y":16,"z":1.03},{"x":3,"y":15,"z":1.02},{"x":3,"y":14,"z":1.0},{"x":3,"y":13,"z":0.97},{"x":3,"y":12,"z":0.93},{"x":3,"y":11,"z":0.89},{"x":3,"y":10,"z":0.84},{"x":3,"y":9,"z":0.79},{"x":3,"y":8,"z":0.74},{"x":3,"y":7,"z":0.68},{"x":3,"y":6,"z":0.62},{"x":3,"y":5,"z":0.56},{"x":3,"y":4,"z":0.51},{"x":3,"y":3,"z":0.46},{"x":3,"y":2,"z":0.42},{"x":3,"y":1,"z":0.38},
{"x":2,"y":32,"z":0.35},{"x":2,"y":31,"z":0.38},{"x":2,"y":30,"z":0.42},{"x":2,"y":29,"z":0.46},{"x":2,"y":28,"z":0.5},{"x":2,"y":27,"z":0.55},{"x":2,"y":26,"z":0.6},{"x":2,"y":25,"z":0.65},{"x":2,"y":24,"z":0.7},{"x":2,"y":23,"z":0.74},{"x":2,"y":22,"z":0.78},{"x":2,"y":21,"z":0.82},{"x":2,"y":20,"z":0.85},{"x":2,"y":19,"z":0.87},{"x":2,"y":18,"z":0.89},{"x":2,"y":17,"z":0.9},{"x":2,"y":16,"z":0.9},{"x":2,"y":15,"z":0.89},{"x":2,"y":14,"z":0.87},{"x":2,"y":13,"z":0.85},{"x":2,"y":12,"z":0.82},{"x":2,"y":11,"z":0.78},{"x":2,"y":10,"z":0.74},{"x":2,"y":9,"z":0.7},{"x":2,"y":8,"z":0.65},{"x":2,"y":7,"z":0.6},{"x":2,"y":6,"z":0.55},{"x":2,"y":5,"z":0.5},{"x":2,"y":4,"z":0.46},{"x":2,"y":3,"z":0.42},{"x":2,"y":2,"z":0.38},{"x":2,"y":1,"z":0.35},
{"x":1,"y":32,"z":0.31},{"x":1,"y":31,"z":0.35},{"x":1,"y":30,"z":0.38},{"x":1,"y":29,"z":0.42},{"x":1,"y":28,"z":0.45},{"x":1,"y":27,"z":0.49},{"x":1,"y":26,"z":0.53},{"x":1,"y":25,"z":0.57},{"x":1,"y":24,"z":0.61},{"x":1,"y":23,"z":0.65},{"x":1,"y":22,"z":0.68},{"x":1,"y":21,"z":0.72},{"x":1,"y":20,"z":0.74},{"x":1,"y":19,"z":0.76},{"x":1,"y":18,"z":0.78},{"x":1,"y":17,"z":0.78},{"x":1,"y":16,"z":0.78},{"x":1,"y":15,"z":0.78},{"x":1,"y":14,"z":0.76},{"x":1,"y":13,"z":0.74},{"x":1,"y":12,"z":0.72},{"x":1,"y":11,"z":0.68},{"x":1,"y":10,"z":0.65},{"x":1,"y":9,"z":0.61},{"x":1,"y":8,"z":0.57},{"x":1,"y":7,"z":0.53},{"x":1,"y":6,"z":0.49},{"x":1,"y":5,"z":0.45},{"x":1,"y":4,"z":0.42},{"x":1,"y":3,"z":0.38},{"x":1,"y":2,"z":0.35},{"x":1,"y":1,"z":0.31}],
"panes":[
{"pane":"left","o":0,"x":-1.3,"y":34.3,"z":-0.067},{"pane":"left","o":1,"x":34.3,"y":34.3,"z":-0.067},{"pane":"left","o":2,"x":34.3,"y":34.3,"z":3.873},{"pane":"left","o":3,"x":-1.3,"y":34.3,"z":3.873},
{"pane":"right","o":0,"x":34.3,"y":-1.3,"z":-0.067},{"pane":"right","o":1,"x":34.3,"y":34.3,"z":-0.067},{"pane":"right","o":2,"x":34.3,"y":34.3,"z":3.873},{"pane":"right","o":3,"x":34.3,"y":-1.3,"z":3.873},
{"pane":"floor","o":0,"x":-1.3,"y":-1.3,"z":-0.067},{"pane":"floor","o":1,"x":34.3,"y":-1.3,"z":-0.067},{"pane":"floor","o":2,"x":34.3,"y":34.3,"z":-0.067},{"pane":"floor","o":3,"x":-1.3,"y":34.3,"z":-0.067}],
"lines":[
{"g":"gx0","k":"grid","o":0,"x":0,"y":-1.3,"z":-0.067},{"g":"gx0","k":"grid","o":1,"x":0,"y":34.3,"z":-0.067},{"g":"gx0","k":"grid","o":2,"x":0,"y":34.3,"z":3.873},
{"g":"gx4","k":"grid","o":0,"x":4,"y":-1.3,"z":-0.067},{"g":"gx4","k":"grid","o":1,"x":4,"y":34.3,"z":-0.067},{"g":"gx4","k":"grid","o":2,"x":4,"y":34.3,"z":3.873},
{"g":"gx8","k":"grid","o":0,"x":8,"y":-1.3,"z":-0.067},{"g":"gx8","k":"grid","o":1,"x":8,"y":34.3,"z":-0.067},{"g":"gx8","k":"grid","o":2,"x":8,"y":34.3,"z":3.873},
{"g":"gx12","k":"grid","o":0,"x":12,"y":-1.3,"z":-0.067},{"g":"gx12","k":"grid","o":1,"x":12,"y":34.3,"z":-0.067},{"g":"gx12","k":"grid","o":2,"x":12,"y":34.3,"z":3.873},
{"g":"gx16","k":"grid","o":0,"x":16,"y":-1.3,"z":-0.067},{"g":"gx16","k":"grid","o":1,"x":16,"y":34.3,"z":-0.067},{"g":"gx16","k":"grid","o":2,"x":16,"y":34.3,"z":3.873},
{"g":"gx20","k":"grid","o":0,"x":20,"y":-1.3,"z":-0.067},{"g":"gx20","k":"grid","o":1,"x":20,"y":34.3,"z":-0.067},{"g":"gx20","k":"grid","o":2,"x":20,"y":34.3,"z":3.873},
{"g":"gx24","k":"grid","o":0,"x":24,"y":-1.3,"z":-0.067},{"g":"gx24","k":"grid","o":1,"x":24,"y":34.3,"z":-0.067},{"g":"gx24","k":"grid","o":2,"x":24,"y":34.3,"z":3.873},
{"g":"gx28","k":"grid","o":0,"x":28,"y":-1.3,"z":-0.067},{"g":"gx28","k":"grid","o":1,"x":28,"y":34.3,"z":-0.067},{"g":"gx28","k":"grid","o":2,"x":28,"y":34.3,"z":3.873},
{"g":"gx32","k":"grid","o":0,"x":32,"y":-1.3,"z":-0.067},{"g":"gx32","k":"grid","o":1,"x":32,"y":34.3,"z":-0.067},{"g":"gx32","k":"grid","o":2,"x":32,"y":34.3,"z":3.873},
{"g":"gy0","k":"grid","o":0,"x":-1.3,"y":0,"z":-0.067},{"g":"gy0","k":"grid","o":1,"x":34.3,"y":0,"z":-0.067},{"g":"gy0","k":"grid","o":2,"x":34.3,"y":0,"z":3.873},
{"g":"gy4","k":"grid","o":0,"x":-1.3,"y":4,"z":-0.067},{"g":"gy4","k":"grid","o":1,"x":34.3,"y":4,"z":-0.067},{"g":"gy4","k":"grid","o":2,"x":34.3,"y":4,"z":3.873},
{"g":"gy8","k":"grid","o":0,"x":-1.3,"y":8,"z":-0.067},{"g":"gy8","k":"grid","o":1,"x":34.3,"y":8,"z":-0.067},{"g":"gy8","k":"grid","o":2,"x":34.3,"y":8,"z":3.873},
{"g":"gy12","k":"grid","o":0,"x":-1.3,"y":12,"z":-0.067},{"g":"gy12","k":"grid","o":1,"x":34.3,"y":12,"z":-0.067},{"g":"gy12","k":"grid","o":2,"x":34.3,"y":12,"z":3.873},
{"g":"gy16","k":"grid","o":0,"x":-1.3,"y":16,"z":-0.067},{"g":"gy16","k":"grid","o":1,"x":34.3,"y":16,"z":-0.067},{"g":"gy16","k":"grid","o":2,"x":34.3,"y":16,"z":3.873},
{"g":"gy20","k":"grid","o":0,"x":-1.3,"y":20,"z":-0.067},{"g":"gy20","k":"grid","o":1,"x":34.3,"y":20,"z":-0.067},{"g":"gy20","k":"grid","o":2,"x":34.3,"y":20,"z":3.873},
{"g":"gy24","k":"grid","o":0,"x":-1.3,"y":24,"z":-0.067},{"g":"gy24","k":"grid","o":1,"x":34.3,"y":24,"z":-0.067},{"g":"gy24","k":"grid","o":2,"x":34.3,"y":24,"z":3.873},
{"g":"gy28","k":"grid","o":0,"x":-1.3,"y":28,"z":-0.067},{"g":"gy28","k":"grid","o":1,"x":34.3,"y":28,"z":-0.067},{"g":"gy28","k":"grid","o":2,"x":34.3,"y":28,"z":3.873},
{"g":"gy32","k":"grid","o":0,"x":-1.3,"y":32,"z":-0.067},{"g":"gy32","k":"grid","o":1,"x":34.3,"y":32,"z":-0.067},{"g":"gy32","k":"grid","o":2,"x":34.3,"y":32,"z":3.873},
{"g":"gz0","k":"grid","o":0,"x":-1.3,"y":34.3,"z":0},{"g":"gz0","k":"grid","o":1,"x":34.3,"y":34.3,"z":0},{"g":"gz0","k":"grid","o":2,"x":34.3,"y":-1.3,"z":0},
{"g":"gz1","k":"grid","o":0,"x":-1.3,"y":34.3,"z":1},{"g":"gz1","k":"grid","o":1,"x":34.3,"y":34.3,"z":1},{"g":"gz1","k":"grid","o":2,"x":34.3,"y":-1.3,"z":1},
{"g":"gz2","k":"grid","o":0,"x":-1.3,"y":34.3,"z":2},{"g":"gz2","k":"grid","o":1,"x":34.3,"y":34.3,"z":2},{"g":"gz2","k":"grid","o":2,"x":34.3,"y":-1.3,"z":2},
{"g":"gz3","k":"grid","o":0,"x":-1.3,"y":34.3,"z":3},{"g":"gz3","k":"grid","o":1,"x":34.3,"y":34.3,"z":3},{"g":"gz3","k":"grid","o":2,"x":34.3,"y":-1.3,"z":3},
{"g":"ax","k":"axis","o":0,"x":-1.3,"y":-1.3,"z":-0.067},{"g":"ax","k":"axis","o":1,"x":34.3,"y":-1.3,"z":-0.067},
{"g":"ay","k":"axis","o":0,"x":-1.3,"y":-1.3,"z":-0.067},{"g":"ay","k":"axis","o":1,"x":-1.3,"y":34.3,"z":-0.067},
{"g":"az","k":"axis","o":0,"x":-1.3,"y":34.3,"z":-0.067},{"g":"az","k":"axis","o":1,"x":-1.3,"y":34.3,"z":3.873},
{"g":"tx0","k":"axis","o":0,"x":0,"y":-2.05,"z":-0.067},{"g":"tx0","k":"axis","o":1,"x":0,"y":-0.85,"z":-0.067},
{"g":"tx4","k":"axis","o":0,"x":4,"y":-2.05,"z":-0.067},{"g":"tx4","k":"axis","o":1,"x":4,"y":-0.85,"z":-0.067},
{"g":"tx8","k":"axis","o":0,"x":8,"y":-2.05,"z":-0.067},{"g":"tx8","k":"axis","o":1,"x":8,"y":-0.85,"z":-0.067},
{"g":"tx12","k":"axis","o":0,"x":12,"y":-2.05,"z":-0.067},{"g":"tx12","k":"axis","o":1,"x":12,"y":-0.85,"z":-0.067},
{"g":"tx16","k":"axis","o":0,"x":16,"y":-2.05,"z":-0.067},{"g":"tx16","k":"axis","o":1,"x":16,"y":-0.85,"z":-0.067},
{"g":"tx20","k":"axis","o":0,"x":20,"y":-2.05,"z":-0.067},{"g":"tx20","k":"axis","o":1,"x":20,"y":-0.85,"z":-0.067},
{"g":"tx24","k":"axis","o":0,"x":24,"y":-2.05,"z":-0.067},{"g":"tx24","k":"axis","o":1,"x":24,"y":-0.85,"z":-0.067},
{"g":"tx28","k":"axis","o":0,"x":28,"y":-2.05,"z":-0.067},{"g":"tx28","k":"axis","o":1,"x":28,"y":-0.85,"z":-0.067},
{"g":"tx32","k":"axis","o":0,"x":32,"y":-2.05,"z":-0.067},{"g":"tx32","k":"axis","o":1,"x":32,"y":-0.85,"z":-0.067},
{"g":"ty0","k":"axis","o":0,"x":-2.05,"y":0,"z":-0.067},{"g":"ty0","k":"axis","o":1,"x":-0.85,"y":0,"z":-0.067},
{"g":"ty4","k":"axis","o":0,"x":-2.05,"y":4,"z":-0.067},{"g":"ty4","k":"axis","o":1,"x":-0.85,"y":4,"z":-0.067},
{"g":"ty8","k":"axis","o":0,"x":-2.05,"y":8,"z":-0.067},{"g":"ty8","k":"axis","o":1,"x":-0.85,"y":8,"z":-0.067},
{"g":"ty12","k":"axis","o":0,"x":-2.05,"y":12,"z":-0.067},{"g":"ty12","k":"axis","o":1,"x":-0.85,"y":12,"z":-0.067},
{"g":"ty16","k":"axis","o":0,"x":-2.05,"y":16,"z":-0.067},{"g":"ty16","k":"axis","o":1,"x":-0.85,"y":16,"z":-0.067},
{"g":"ty20","k":"axis","o":0,"x":-2.05,"y":20,"z":-0.067},{"g":"ty20","k":"axis","o":1,"x":-0.85,"y":20,"z":-0.067},
{"g":"ty24","k":"axis","o":0,"x":-2.05,"y":24,"z":-0.067},{"g":"ty24","k":"axis","o":1,"x":-0.85,"y":24,"z":-0.067},
{"g":"ty28","k":"axis","o":0,"x":-2.05,"y":28,"z":-0.067},{"g":"ty28","k":"axis","o":1,"x":-0.85,"y":28,"z":-0.067},
{"g":"ty32","k":"axis","o":0,"x":-2.05,"y":32,"z":-0.067},{"g":"ty32","k":"axis","o":1,"x":-0.85,"y":32,"z":-0.067},
{"g":"tz0","k":"axis","o":0,"x":-1.95,"y":34.3,"z":0},{"g":"tz0","k":"axis","o":1,"x":-0.9,"y":34.3,"z":0},
{"g":"tz1","k":"axis","o":0,"x":-1.95,"y":34.3,"z":1},{"g":"tz1","k":"axis","o":1,"x":-0.9,"y":34.3,"z":1},
{"g":"tz2","k":"axis","o":0,"x":-1.95,"y":34.3,"z":2},{"g":"tz2","k":"axis","o":1,"x":-0.9,"y":34.3,"z":2},
{"g":"tz3","k":"axis","o":0,"x":-1.95,"y":34.3,"z":3},{"g":"tz3","k":"axis","o":1,"x":-0.9,"y":34.3,"z":3}],
"xlabels":[{"t":"0","x":0},{"t":"4","x":4},{"t":"8","x":8},{"t":"12","x":12},{"t":"16","x":16},{"t":"20","x":20},{"t":"24","x":24},{"t":"28","x":28},{"t":"32","x":32}],
"ylabels":[{"t":"0","y":0},{"t":"4","y":4},{"t":"8","y":8},{"t":"12","y":12},{"t":"16","y":16},{"t":"20","y":20},{"t":"24","y":24},{"t":"28","y":28},{"t":"32","y":32}],
"xtitle":[{"t":"x","x":16}],"ytitle":[{"t":"y","y":16}]},
"layer":[
{"data":{"name":"panes"},"transform":[{"calculate":"datum.x","as":"px"},{"calculate":"datum.y","as":"py"},{"calculate":"datum.z","as":"pz"},
{"calculate":"(datum.px-datum.py)*0.019862","as":"p"},{"calculate":"(datum.px+datum.py-33)*0.019862","as":"q"},{"calculate":"((datum.pz+0.067)/3.94-0.5)*0.7526","as":"h"},{"calculate":"1+0.1177*(0.866*datum.q-0.5*datum.h)","as":"D"},{"calculate":"626+714.5*datum.p/datum.D","as":"sx"},{"calculate":"568.2-714.5*(0.866*datum.h+0.5*datum.q)/datum.D","as":"sy"}],
"mark":{"type":"line","filled":true,"interpolate":"linear-closed","strokeWidth":0},
"encoding":{"x":{"field":"sx","type":"quantitative","scale":{"domain":[0,1195],"range":[0,1195]},"axis":null},"y":{"field":"sy","type":"quantitative","scale":{"domain":[0,1206],"range":[0,1206]},"axis":null},"order":{"field":"o","type":"quantitative"},"detail":{"field":"pane"},"fill":{"field":"pane","type":"nominal","scale":{"domain":["left","right","floor"],"range":["#f2f2f2","#f8f8f8","#f5f5f5"]},"legend":null}}},
{"data":{"name":"lines"},"transform":[{"calculate":"datum.x","as":"px"},{"calculate":"datum.y","as":"py"},{"calculate":"datum.z","as":"pz"},
{"calculate":"(datum.px-datum.py)*0.019862","as":"p"},{"calculate":"(datum.px+datum.py-33)*0.019862","as":"q"},{"calculate":"((datum.pz+0.067)/3.94-0.5)*0.7526","as":"h"},{"calculate":"1+0.1177*(0.866*datum.q-0.5*datum.h)","as":"D"},{"calculate":"626+714.5*datum.p/datum.D","as":"sx"},{"calculate":"568.2-714.5*(0.866*datum.h+0.5*datum.q)/datum.D","as":"sy"}],
"mark":{"type":"line","strokeWidth":3,"strokeCap":"butt"},
"encoding":{"x":{"field":"sx","type":"quantitative","scale":{"domain":[0,1195],"range":[0,1195]},"axis":null},"y":{"field":"sy","type":"quantitative","scale":{"domain":[0,1206],"range":[0,1206]},"axis":null},"order":{"field":"o","type":"quantitative"},"detail":{"field":"g"},"stroke":{"field":"k","type":"nominal","scale":{"domain":["grid","axis"],"range":["#b0b0b0","#000000"]},"legend":null}}},
{"data":{"name":"surface"},"transform":[
{"window":[{"op":"lag","field":"z","as":"zy"},{"op":"lag","field":"y","as":"yp"}],"groupby":["x"],"sort":[{"field":"y","order":"ascending"}]},
{"window":[{"op":"lag","field":"z","as":"zx"},{"op":"lag","field":"x","as":"xp"},{"op":"lag","field":"zy","as":"zxy"}],"groupby":["y"],"sort":[{"field":"x","order":"ascending"}]},
{"filter":"datum.xp!=null&&datum.yp!=null"},
{"calculate":"(datum.z+datum.zx+datum.zy+datum.zxy)/4","as":"zm"},
{"calculate":"datum.x*100+datum.y","as":"cell"},
{"calculate":"[0,1,2,3]","as":"c"},{"flatten":["c"]},
{"calculate":"datum.c==0||datum.c==3?datum.x:datum.xp","as":"px"},
{"calculate":"datum.c==0||datum.c==1?datum.y:datum.yp","as":"py"},
{"calculate":"datum.c==0?datum.z:datum.c==1?datum.zx:datum.c==2?datum.zxy:datum.zy","as":"pz"},
{"calculate":"(datum.px-datum.py)*0.019862","as":"p"},{"calculate":"(datum.px+datum.py-33)*0.019862","as":"q"},{"calculate":"((datum.pz+0.067)/3.94-0.5)*0.7526","as":"h"},{"calculate":"1+0.1177*(0.866*datum.q-0.5*datum.h)","as":"D"},{"calculate":"626+714.5*datum.p/datum.D","as":"sx"},{"calculate":"568.2-714.5*(0.866*datum.h+0.5*datum.q)/datum.D","as":"sy"}],
"mark":{"type":"line","filled":true,"interpolate":"linear-closed","strokeWidth":0.6},
"encoding":{"x":{"field":"sx","type":"quantitative","scale":{"domain":[0,1195],"range":[0,1195]},"axis":null},"y":{"field":"sy","type":"quantitative","scale":{"domain":[0,1206],"range":[0,1206]},"axis":null},"order":{"field":"c","type":"quantitative"},"detail":{"field":"cell"},
"fill":{"field":"zm","type":"quantitative","scale":{"domain":[0.36,0.599,0.837,1.076,1.314,1.553,1.791,2.03,2.269,2.507,2.746,2.984,3.223,3.461,3.7],"range":["#30123b","#4145ab","#4675ed","#39a2fc","#1bcfd4","#24eca6","#61fc6c","#a4fc3b","#d1e834","#f3c63a","#fe9b2d","#f36315","#d93806","#b11901","#7a0402"]},"legend":null},"stroke":{"field":"zm","type":"quantitative","scale":{"domain":[0.36,0.599,0.837,1.076,1.314,1.553,1.791,2.03,2.269,2.507,2.746,2.984,3.223,3.461,3.7],"range":["#30123b","#4145ab","#4675ed","#39a2fc","#1bcfd4","#24eca6","#61fc6c","#a4fc3b","#d1e834","#f3c63a","#fe9b2d","#f36315","#d93806","#b11901","#7a0402"]},"legend":null}}},
{"data":{"name":"xlabels"},"transform":[{"calculate":"datum.x","as":"px"},{"calculate":"-1.3","as":"py"},{"calculate":"-0.067","as":"pz"},
{"calculate":"(datum.px-datum.py)*0.019862","as":"p"},{"calculate":"(datum.px+datum.py-33)*0.019862","as":"q"},{"calculate":"((datum.pz+0.067)/3.94-0.5)*0.7526","as":"h"},{"calculate":"1+0.1177*(0.866*datum.q-0.5*datum.h)","as":"D"},{"calculate":"626+714.5*datum.p/datum.D","as":"sx"},{"calculate":"568.2-714.5*(0.866*datum.h+0.5*datum.q)/datum.D","as":"sy"}],
"mark":{"type":"text","font":"Liberation Serif","fontSize":49,"dx":40,"dy":80,"align":"center","baseline":"middle","color":"#000"},
"encoding":{"x":{"field":"sx","type":"quantitative","scale":{"domain":[0,1195],"range":[0,1195]},"axis":null},"y":{"field":"sy","type":"quantitative","scale":{"domain":[0,1206],"range":[0,1206]},"axis":null},"text":{"field":"t"}}},
{"data":{"name":"ylabels"},"transform":[{"calculate":"-1.3","as":"px"},{"calculate":"datum.y","as":"py"},{"calculate":"-0.067","as":"pz"},
{"calculate":"(datum.px-datum.py)*0.019862","as":"p"},{"calculate":"(datum.px+datum.py-33)*0.019862","as":"q"},{"calculate":"((datum.pz+0.067)/3.94-0.5)*0.7526","as":"h"},{"calculate":"1+0.1177*(0.866*datum.q-0.5*datum.h)","as":"D"},{"calculate":"626+714.5*datum.p/datum.D","as":"sx"},{"calculate":"568.2-714.5*(0.866*datum.h+0.5*datum.q)/datum.D","as":"sy"}],
"mark":{"type":"text","font":"Liberation Serif","fontSize":49,"dx":-44,"dy":80,"align":"center","baseline":"middle","color":"#000"},
"encoding":{"x":{"field":"sx","type":"quantitative","scale":{"domain":[0,1195],"range":[0,1195]},"axis":null},"y":{"field":"sy","type":"quantitative","scale":{"domain":[0,1206],"range":[0,1206]},"axis":null},"text":{"field":"t"}}},
{"data":{"name":"xtitle"},"transform":[{"calculate":"datum.x","as":"px"},{"calculate":"-1.3","as":"py"},{"calculate":"-0.067","as":"pz"},
{"calculate":"(datum.px-datum.py)*0.019862","as":"p"},{"calculate":"(datum.px+datum.py-33)*0.019862","as":"q"},{"calculate":"((datum.pz+0.067)/3.94-0.5)*0.7526","as":"h"},{"calculate":"1+0.1177*(0.866*datum.q-0.5*datum.h)","as":"D"},{"calculate":"626+714.5*datum.p/datum.D","as":"sx"},{"calculate":"568.2-714.5*(0.866*datum.h+0.5*datum.q)/datum.D","as":"sy"}],
"mark":{"type":"text","font":"Liberation Serif","fontSize":49,"dx":100,"dy":127,"align":"center","baseline":"middle","color":"#000"},
"encoding":{"x":{"field":"sx","type":"quantitative","scale":{"domain":[0,1195],"range":[0,1195]},"axis":null},"y":{"field":"sy","type":"quantitative","scale":{"domain":[0,1206],"range":[0,1206]},"axis":null},"text":{"field":"t"}}},
{"data":{"name":"ytitle"},"transform":[{"calculate":"-1.3","as":"py0"},{"calculate":"-1.3","as":"px"},{"calculate":"datum.y","as":"py"},{"calculate":"-0.067","as":"pz"},
{"calculate":"(datum.px-datum.py)*0.019862","as":"p"},{"calculate":"(datum.px+datum.py-33)*0.019862","as":"q"},{"calculate":"((datum.pz+0.067)/3.94-0.5)*0.7526","as":"h"},{"calculate":"1+0.1177*(0.866*datum.q-0.5*datum.h)","as":"D"},{"calculate":"626+714.5*datum.p/datum.D","as":"sx"},{"calculate":"568.2-714.5*(0.866*datum.h+0.5*datum.q)/datum.D","as":"sy"}],
"mark":{"type":"text","font":"Liberation Serif","fontSize":49,"dx":-102,"dy":127,"align":"center","baseline":"middle","color":"#000"},
"encoding":{"x":{"field":"sx","type":"quantitative","scale":{"domain":[0,1195],"range":[0,1195]},"axis":null},"y":{"field":"sy","type":"quantitative","scale":{"domain":[0,1206],"range":[0,1206]},"axis":null},"text":{"field":"t"}}}
]}
